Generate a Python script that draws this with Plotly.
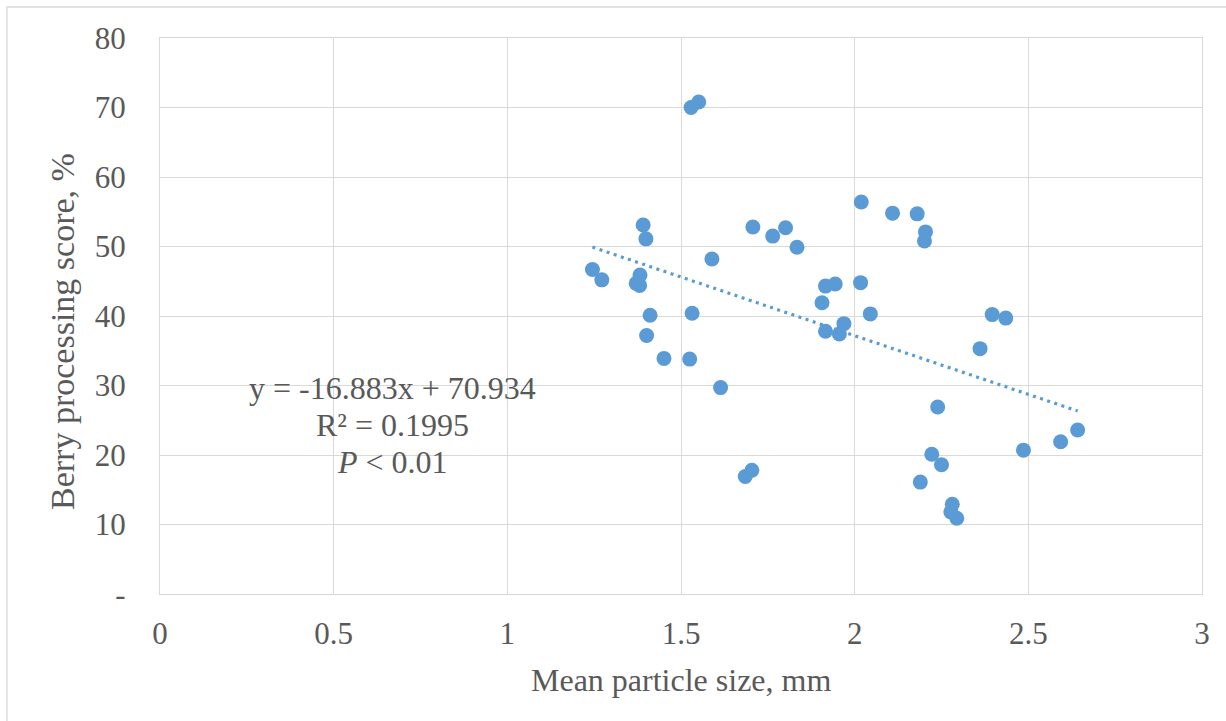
import plotly.graph_objects as go

particle_size = [1.245, 1.272, 1.371, 1.381, 1.382, 1.391, 1.399, 1.401, 1.411, 1.451,
                 1.525, 1.529, 1.532, 1.551, 1.589, 1.614, 1.685, 1.704, 1.707, 1.764,
                 1.801, 1.834, 1.906, 1.916, 1.916, 1.944, 1.956, 1.969, 2.017, 2.019,
                 2.045, 2.109, 2.180, 2.189, 2.201, 2.204, 2.222, 2.239, 2.250, 2.277,
                 2.281, 2.294, 2.361, 2.396, 2.435, 2.486, 2.593, 2.642]
berry_score = [46.7, 45.2, 44.7, 44.4, 45.9, 53.1, 51.1, 37.2, 40.1, 33.9,
               33.8, 70.0, 40.4, 70.8, 48.2, 29.7, 16.9, 17.8, 52.8, 51.5,
               52.7, 49.9, 41.9, 44.3, 37.8, 44.6, 37.4, 38.9, 44.8, 56.4,
               40.3, 54.8, 54.7, 16.1, 50.8, 52.1, 20.1, 26.9, 18.6, 11.8,
               12.9, 10.9, 35.3, 40.2, 39.7, 20.7, 21.9, 23.6]

slope = -16.883
intercept = 70.934
r_squared = 0.1995

y_tickvals = [0, 10, 20, 30, 40, 50, 60, 70, 80]
y_ticktext = ["-", "10", "20", "30", "40", "50", "60", "70", "80"]
x_tickvals = [0, 0.5, 1, 1.5, 2, 2.5, 3]
x_ticktext = ["0", "0.5", "1", "1.5", "2", "2.5", "3"]

BLUE = "#5B9BD5"
GRID = "#D9D9D9"
TXT = "#595959"
FONT = "Liberation Serif"
TS = 31   # tick font size
LS = 32   # title / label font size
YS = 34   # y-axis title font size

x_min, x_max = min(particle_size), max(particle_size)
trend_x = [x_min, x_max]
trend_y = [slope * v + intercept for v in trend_x]

fig = go.Figure()
fig.add_trace(go.Scatter(x=trend_x, y=trend_y, mode="lines",
                         line=dict(color=BLUE, width=3.2, dash="3px,4.5px"),
                         hoverinfo="skip", showlegend=False))
fig.add_trace(go.Scatter(x=particle_size, y=berry_score, mode="markers",
                         marker=dict(color=BLUE, size=15, line=dict(width=0)),
                         showlegend=False))

ML, MR, MT, MB = 160, 24, 38, 127
W, H = 1226, 721
pw = W - ML - MR
ph = H - MT - MB

fig.update_layout(
    width=W, height=H,
    margin=dict(l=ML, r=MR, t=MT, b=MB),
    paper_bgcolor="white", plot_bgcolor="white",
    font=dict(family=FONT, color=TXT, size=TS),
    xaxis=dict(range=[0, 3], tickvals=x_tickvals, ticktext=x_ticktext,
               showgrid=True, gridcolor=GRID, gridwidth=1.3,
               showline=True, linecolor=GRID, linewidth=1.3, mirror=True,
               zeroline=False, ticks="", ticklabelstandoff=12,
               tickfont=dict(family=FONT, size=TS, color=TXT)),
    yaxis=dict(range=[0, 80], tickvals=y_tickvals, ticktext=y_ticktext,
               showgrid=True, gridcolor=GRID, gridwidth=1.3,
               showline=True, linecolor=GRID, linewidth=1.3, mirror=True,
               zeroline=False, ticks="", ticklabelstandoff=27,
               tickfont=dict(family=FONT, size=TS, color=TXT)),
    shapes=[dict(type="rect", xref="paper", yref="paper",
                 x0=(7 - ML) / pw, x1=(W + 5 - ML) / pw,
                 y0=(H - MB - (H + 5)) / ph, y1=(H - MB - 7) / ph,
                 line=dict(color=GRID, width=1.3), fillcolor="rgba(0,0,0,0)", layer="below")],
    annotations=[
        dict(text="Mean particle size, mm", xref="paper", yref="paper",
             x=0.5, y=(H - MB - 680) / ph, xanchor="center", yanchor="middle",
             showarrow=False, font=dict(family=FONT, size=LS, color=TXT)),
        dict(text="Berry processing score, %", xref="paper", yref="paper",
             x=(62 - ML) / pw, y=(H - MB - 332) / ph, xanchor="center", yanchor="middle",
             textangle=-90, showarrow=False, font=dict(family=FONT, size=YS, color=TXT)),
        dict(text=f"y = {slope}x + {intercept}", x=0.668, y=(H - MB - 388) / ph * 80,
             xref="x", yref="y", xanchor="center", yanchor="middle", showarrow=False,
             font=dict(family=FONT, size=LS, color=TXT)),
        dict(text=f"R² = {r_squared}", x=0.668, y=(H - MB - 425) / ph * 80,
             xref="x", yref="y", xanchor="center", yanchor="middle", showarrow=False,
             font=dict(family=FONT, size=LS, color=TXT)),
        dict(text="<i>P</i> &lt; 0.01", x=0.668, y=(H - MB - 462) / ph * 80,
             xref="x", yref="y", xanchor="center", yanchor="middle", showarrow=False,
             font=dict(family=FONT, size=LS, color=TXT)),
    ],
)

fig.write_html("out.html")
